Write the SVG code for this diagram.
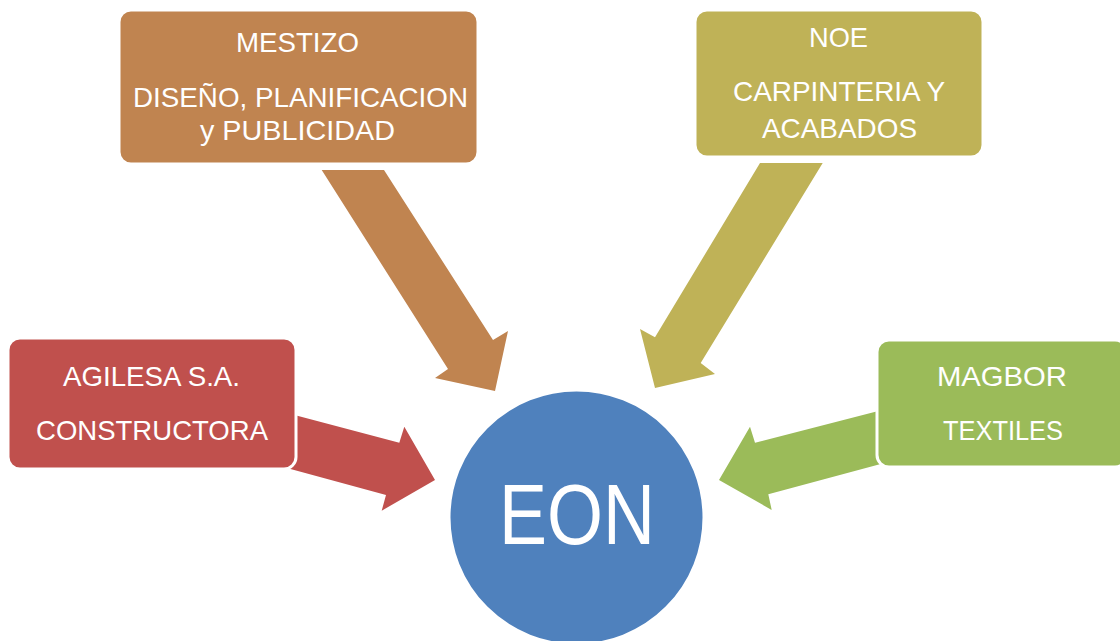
<svg xmlns="http://www.w3.org/2000/svg" width="1120" height="641" viewBox="0 0 1120 641">
<style>
.box{stroke:#ffffff;stroke-width:3}
.t{font-family:"Liberation Sans",Arial,sans-serif;font-size:28px;fill:#ffffff;text-anchor:middle}
.big{font-family:"Liberation Sans",Arial,sans-serif;font-size:85px;fill:#ffffff;text-anchor:middle}
</style>
<rect width="1120" height="641" fill="#ffffff"/>
<g id="connectors">
<polygon points="321.7,170 384,170 493,340 508,331 495,391 435,378 448,369" fill="#C08450"/>
<polygon points="760,163 822.7,163 700.7,363 715,374 655,388 640,329 655,337.3" fill="#BFB257"/>
<polygon points="285,412.6 399.3,442.7 404.3,426.7 435,480 381.7,510.7 386,495 285,467.5" fill="#C0504D"/>
<polygon points="890,408 755,442.7 750,426.7 719,480 771.7,510 768.3,494.3 890,461.5" fill="#9BBB59"/>
</g>
<g id="mestizo">
<rect class="box" x="119" y="10" width="359" height="154" rx="12" fill="#C08450"/>
<text class="t" x="297.5" y="52" textLength="123" lengthAdjust="spacingAndGlyphs">MESTIZO</text>
<text class="t" x="300.5" y="107" textLength="335" lengthAdjust="spacingAndGlyphs">DISEÑO, PLANIFICACION</text>
<text class="t" x="297.5" y="140" textLength="195" lengthAdjust="spacingAndGlyphs">y PUBLICIDAD</text>
</g>
<g id="noe">
<rect class="box" x="695" y="10" width="288" height="147" rx="12" fill="#BFB257"/>
<text class="t" x="838.5" y="47" textLength="59" lengthAdjust="spacingAndGlyphs">NOE</text>
<text class="t" x="839" y="101" textLength="212" lengthAdjust="spacingAndGlyphs">CARPINTERIA Y</text>
<text class="t" x="839.5" y="138" textLength="155" lengthAdjust="spacingAndGlyphs">ACABADOS</text>
</g>
<g id="agilesa">
<rect class="box" x="8" y="338" width="288" height="131" rx="12" fill="#C0504D"/>
<text class="t" x="151.5" y="386" textLength="177" lengthAdjust="spacingAndGlyphs">AGILESA S.A.</text>
<text class="t" x="152" y="440" textLength="232" lengthAdjust="spacingAndGlyphs">CONSTRUCTORA</text>
</g>
<g id="magbor">
<rect class="box" x="877" y="340" width="250" height="127" rx="12" fill="#9BBB59"/>
<text class="t" x="1002" y="386" textLength="130" lengthAdjust="spacingAndGlyphs">MAGBOR</text>
<text class="t" x="1003" y="440" textLength="120" lengthAdjust="spacingAndGlyphs">TEXTILES</text>
</g>
<g id="eon">
<circle cx="576.5" cy="517.5" r="127" fill="#4F81BD" stroke="#ffffff" stroke-width="2"/>
<text class="big" x="577" y="544" textLength="156" lengthAdjust="spacingAndGlyphs">EON</text>
</g>
</svg>
